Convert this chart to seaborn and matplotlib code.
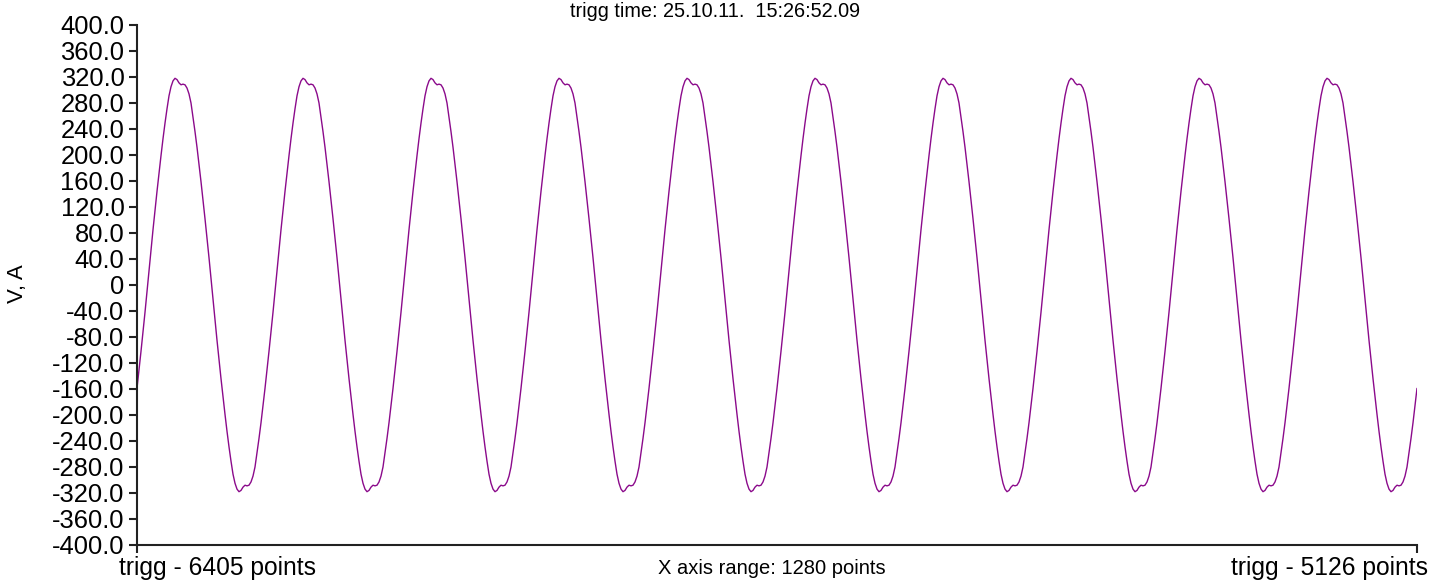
import numpy as np
import pandas as pd
import matplotlib
matplotlib.use("Agg")
import matplotlib.pyplot as plt
import seaborn as sns

# Recorded voltage, sampled every 2 points.
# Positive half-wave, starting at the rising zero crossing.
positive_half = [-10, 23, 54, 85, 115, 144, 172, 199, 225, 249,
                 271, 291, 305, 314, 318, 316, 311, 308, 309, 308,
                 303, 294, 280, 258, 236, 212, 186, 159, 131, 102,
                 72, 42]
# Negative half-wave, starting at the falling zero crossing.
negative_half = [10, -23, -54, -85, -115, -144, -172, -199, -225, -249,
                 -271, -291, -305, -314, -318, -316, -311, -308, -309, -308,
                 -303, -294, -280, -258, -236, -212, -186, -159, -131, -102,
                 -72, -42]

sample_step = 2          # points between stored samples
n_samples = 641          # 0 .. 1280 points
first_sample = 59        # position in the cycle of the first stored sample

y_ticks = list(range(-400, 401, 40))
title_text = "trigg time: 25.10.11.  15:26:52.09"
left_label = "trigg - 6405 points"
right_label = "trigg - 5126 points"
range_label = "X axis range: 1280 points"
y_label = "V, A"

cycle = positive_half + negative_half
values = np.tile(cycle, 12)[first_sample:first_sample + n_samples]
df = pd.DataFrame({"point": np.arange(n_samples) * sample_step,
                   "value": values})

sns.set_theme(style="white")
plt.rcParams["font.family"] = ["Liberation Sans", "DejaVu Sans"]

W, H = 1446, 585
fig = plt.figure(figsize=(W / 100, H / 100), dpi=100)
ax = fig.add_axes([137 / W, 40 / H, 1280 / W, 520 / H])

sns.lineplot(data=df, x="point", y="value", ax=ax,
             color="#8B0A8B", linewidth=1.0)

ax.set_xlim(0, 1280)
ax.set_ylim(-400, 400)
ax.set_yticks(y_ticks)
ax.set_yticklabels(["0" if v == 0 else f"{v:.1f}" for v in y_ticks])
ax.set_xticks([0, 1280])
ax.set_xticklabels([])
ax.set_xlabel("")
ax.set_ylabel("")

spine_color = "#222222"
for side in ("top", "right"):
    ax.spines[side].set_visible(False)
for side in ("left", "bottom"):
    ax.spines[side].set_color(spine_color)
    ax.spines[side].set_linewidth(1.5)

ax.tick_params(axis="y", direction="out", length=6, width=1.5,
               color=spine_color, labelsize=18.4, labelcolor="black",
               pad=3, left=True)
ax.tick_params(axis="x", direction="out", length=6, width=1.5,
               color=spine_color, bottom=True)

fig.text(119 / W, 1 - 575 / H, left_label, ha="left", va="baseline",
         fontsize=17.7, color="black")
fig.text(1428 / W, 1 - 575 / H, right_label, ha="right", va="baseline",
         fontsize=17.7, color="black")
fig.text(772 / W, 1 - 574 / H, range_label, ha="center", va="baseline",
         fontsize=14.5, color="black")
fig.text(715 / W, 1 - 17 / H, title_text, ha="center", va="baseline",
         fontsize=14.3, color="black")
fig.text(17 / W, 1 - 284 / H, y_label, ha="center", va="center",
         rotation=90, fontsize=16, color="black")

fig.savefig("out.png", dpi=100)
